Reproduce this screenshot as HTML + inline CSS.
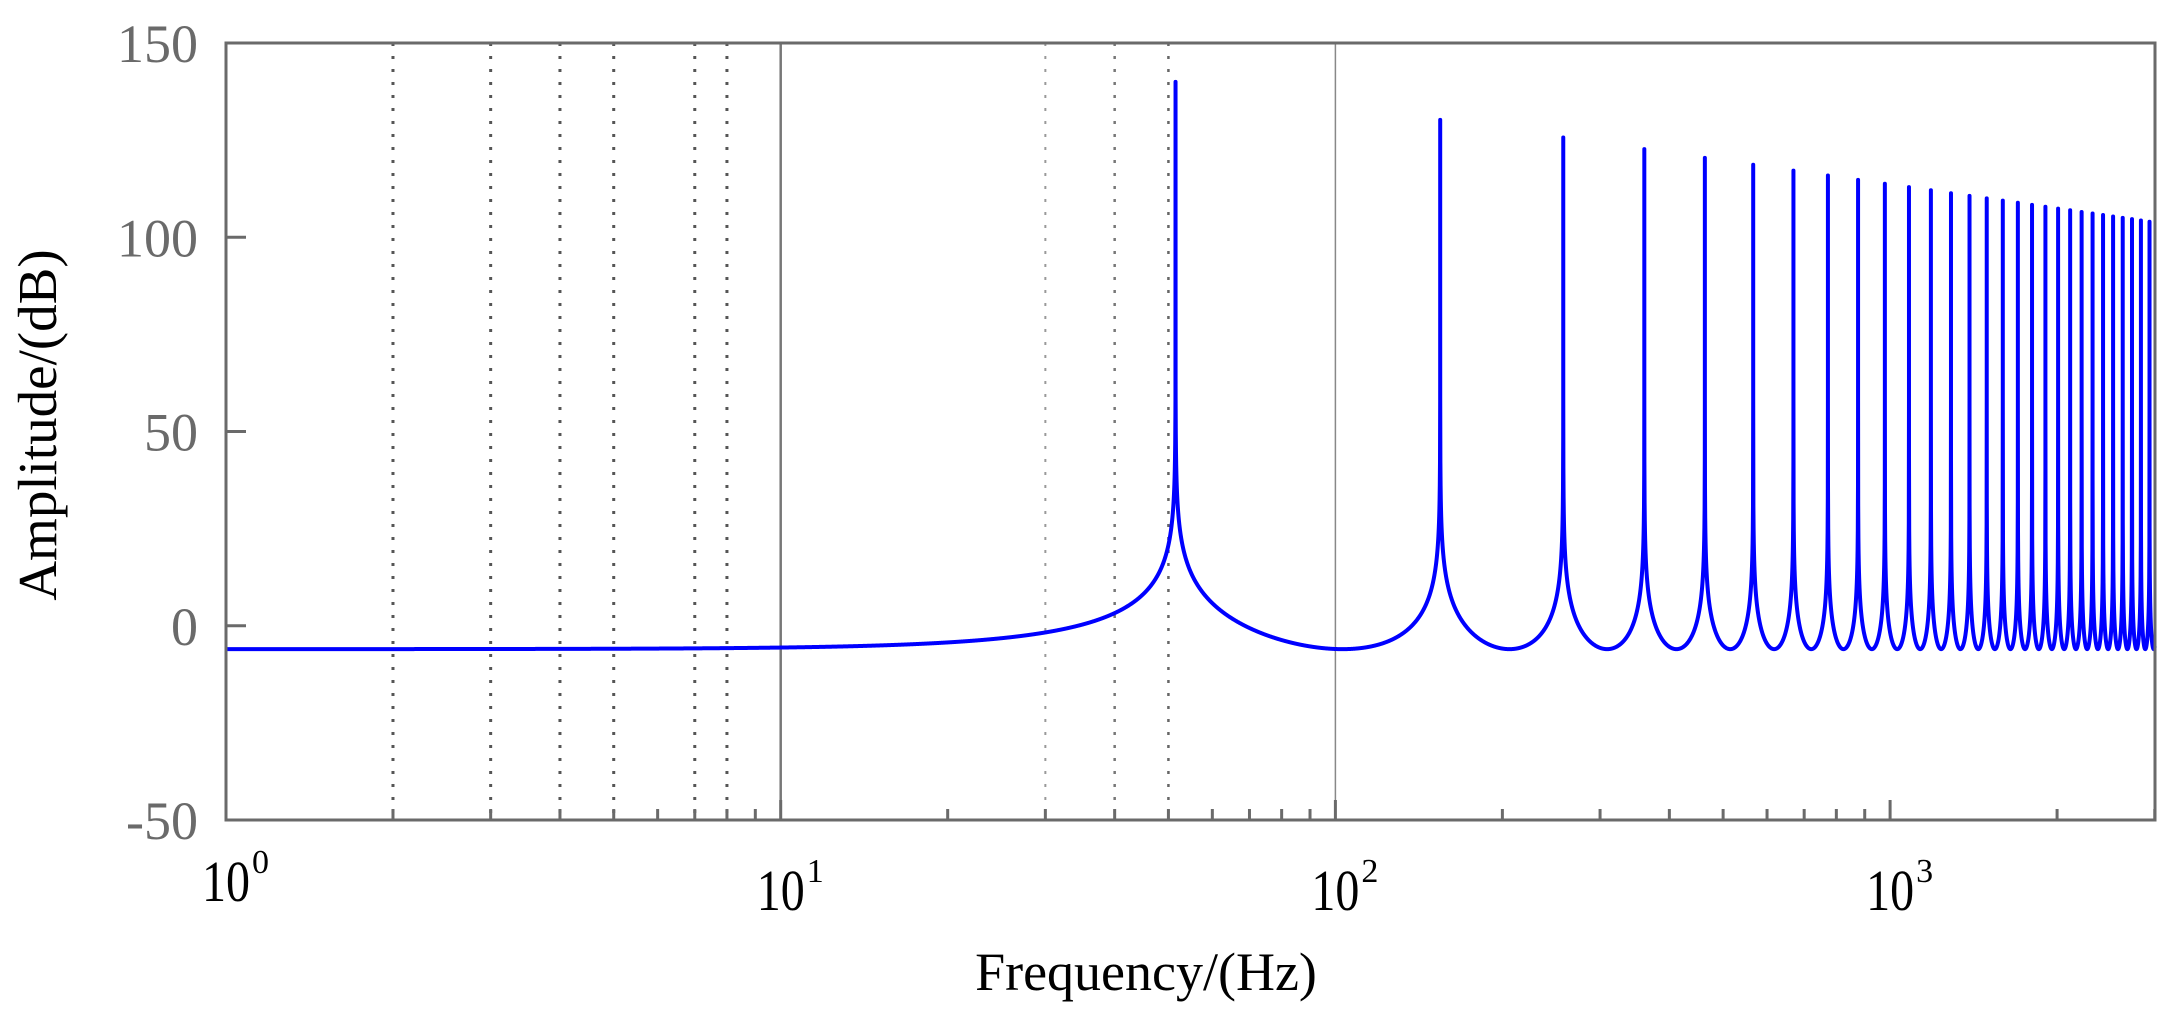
<!DOCTYPE html>
<html><head><meta charset="utf-8"><style>
html,body{margin:0;padding:0;background:#fff;}
svg{display:block;}
text{font-family:"Liberation Serif",serif;}
</style></head><body>
<svg id="s" width="2170" height="1015" viewBox="0 0 2170 1015" xmlns="http://www.w3.org/2000/svg">
<g id="grid"></g>
<path id="curve" fill="none" stroke="#0000ff" stroke-width="4" stroke-linejoin="round"/>
<g id="ax" stroke="#6a6a6a" stroke-width="3" fill="none"></g>
<g id="lbl"></g>
<text x="56" y="425" font-size="55" text-anchor="middle" transform="rotate(-90 56 425)" fill="#000">Amplitude/(dB)</text>
<text x="1146" y="990" font-size="54" text-anchor="middle" fill="#000">Frequency/(Hz)</text>
</svg>
<script>
const L=226,R=2155,T=43,B=820,D=554.7,P=103;
const X=f=>L+Math.log10(f)*D, Y=v=>T+(150-v)*(B-T)/200;
const ns="http://www.w3.org/2000/svg";
function el(p,t,a,txt){const e=document.createElementNS(ns,t);for(const k in a)e.setAttribute(k,a[k]);if(txt!==undefined)e.textContent=txt;document.getElementById(p).appendChild(e);return e;}
[[2,"#555","3 10",3],[3,"#555","3 10",3],[4,"#555","3 10",3],[5,"#555","3 10",3],[7,"#555","3 10",3],[8,"#555","3 10",3],[30,"#999","3 10",2],[40,"#777","3 10",2.5],[50,"#666","3 10",2.5]].forEach(g=>{
 el("grid","line",{x1:X(g[0]),x2:X(g[0]),y1:T,y2:B,stroke:g[1],"stroke-dasharray":g[2],"stroke-width":g[3]});});
el("grid","line",{x1:X(10),x2:X(10),y1:T,y2:B,stroke:"#777","stroke-width":2.5});
el("grid","line",{x1:X(100),x2:X(100),y1:T,y2:B,stroke:"#888","stroke-width":1.5});
function amp(f){const th=Math.PI*f/P;const c=Math.abs(2*Math.cos(th));let v=-20*Math.log10(Math.max(c,1e-12));const k=Math.round((f-P/2)/P);const fp=P/2+P*Math.max(k,0);const cap=140-20.5*Math.log10(fp/(P/2));return Math.min(v,cap);}
let fs=[];
for(let x=L;x<=R;x+=0.2){fs.push(Math.pow(10,(x-L)/D));}
for(let f=P/2;f<=3000;f+=P){fs.push(f);fs.push(f-0.02);fs.push(f+0.02);}
fs.sort((a,b)=>a-b);
let d="";let first=true;fs.forEach(f=>{const x=X(f);if(x>R)return;d+=(first?"M":"L")+x.toFixed(2)+" "+Y(amp(f)).toFixed(2);first=false;});
document.getElementById("curve").setAttribute("d",d);
el("ax","rect",{x:L,y:T,width:R-L,height:B-T});
for(let v=-50;v<=150;v+=50){el("ax","line",{x1:L,x2:L+20,y1:Y(v),y2:Y(v)});
 el("lbl","text",{x:198,y:Y(v)+19,"font-size":54,"text-anchor":"end",fill:"#6a6a6a"},String(v));}
for(let e=0;e<4;e++){for(let m=1;m<10;m++){const f=m*Math.pow(10,e);if(X(f)>R)break;el("ax","line",{x1:X(f),x2:X(f),y1:B,y2:B-(m==1?20:11)});}}
for(let e=0;e<4;e++){const cx=X(Math.pow(10,e));const by=e==0?901:910;
 el("lbl","text",{x:cx-24,y:by,"font-size":58,textLength:48,lengthAdjust:"spacingAndGlyphs",fill:"#000"},"10");
 el("lbl","text",{x:cx+26,y:by-28,"font-size":34,fill:"#000"},String(e));}
</script>
</body></html>
